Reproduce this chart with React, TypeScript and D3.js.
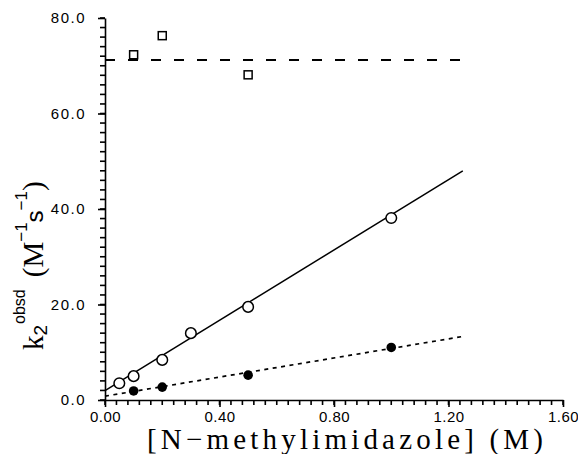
import React, { useRef, useEffect } from "react";
import * as d3 from "d3";

// [N-methylimidazole] (M) vs k2 obsd
const squareX = [0.1, 0.2, 0.5];
const squareY = [72.3, 76.3, 68.1];
const openX = [0.05, 0.1, 0.2, 0.3, 0.5, 1.0];
const openY = [3.5, 5.0, 8.4, 14.0, 19.5, 38.1];
const filledX = [0.1, 0.2, 0.5, 1.0];
const filledY = [1.9, 2.7, 5.2, 11.0];

// fitted lines: [x0, y0, x1, y1]
const dashedFit = [0, 71.2, 1.25, 71.2];
const solidFit = [0, 1.95, 1.25, 48.0];
const dottedFit = [0, 0.8, 1.25, 13.3];

const xMajor = [0, 0.4, 0.8, 1.2, 1.6];
const yMajor = [0, 20, 40, 60, 80];

const W = 578;
const H = 454;

const App = () => {
  const ref = useRef<SVGSVGElement>(null);

  useEffect(() => {
    const svg = d3.select(ref.current);
    svg.selectAll("*").remove();

    const x = d3.scaleLinear().domain([0, 1.6]).range([105, 563]);
    const y = d3.scaleLinear().domain([0, 80]).range([400, 18]);

    const sans = "Liberation Sans, Arial, sans-serif";
    const serif = "Liberation Serif, Times New Roman, serif";

    // minor ticks (every 0.04 and every 2)
    const xMinor = d3.range(0, 41).map((i) => i * 0.04);
    const yMinor = d3.range(0, 41).map((i) => i * 2);
    const minor = svg.append("g").attr("stroke", "#000").attr("stroke-width", 1.6);
    minor.selectAll("line.xm")
      .data(xMinor)
      .join("line")
      .attr("class", "xm")
      .attr("x1", (d) => x(d)).attr("x2", (d) => x(d))
      .attr("y1", y(0)).attr("y2", y(0) + 5);
    minor.selectAll("line.ym")
      .data(yMinor)
      .join("line")
      .attr("class", "ym")
      .attr("x1", x(0)).attr("x2", x(0) - 5)
      .attr("y1", (d) => y(d)).attr("y2", (d) => y(d));

    // major ticks + labels
    const xa = svg.append("g")
      .attr("transform", "translate(0,400)")
      .call(d3.axisBottom(x).tickValues(xMajor).tickSize(7).tickSizeOuter(0).tickPadding(4).tickFormat(d3.format(".2f")));
    const ya = svg.append("g")
      .attr("transform", "translate(105,0)")
      .call(d3.axisLeft(y).tickValues(yMajor).tickSize(7).tickSizeOuter(0).tickPadding(12).tickFormat(d3.format(".1f")));

    [xa, ya].forEach((g) => {
      g.selectAll("path").attr("stroke", "#000").attr("stroke-width", 1.6);
      g.selectAll("line").attr("stroke", "#000").attr("stroke-width", 1.6);
      g.selectAll("text").attr("font-family", sans).attr("font-size", 15).attr("fill", "#000");
    });
    ya.selectAll("text").attr("letter-spacing", 1.5);
    xa.selectAll("text").attr("letter-spacing", 0.5);

    // fit lines
    const fit = (f: number[], dash: string | null, w: number) => {
      svg.append("line")
        .attr("x1", x(f[0])).attr("y1", y(f[1]))
        .attr("x2", x(f[2])).attr("y2", y(f[3]))
        .attr("stroke", "#000").attr("stroke-width", w)
        .attr("stroke-dasharray", dash);
    };
    fit(dashedFit, "10,13", 2.2);
    fit(solidFit, null, 1.5);
    fit(dottedFit, "4,4.5", 1.7);

    // markers
    svg.append("g").selectAll("rect")
      .data(d3.zip(squareX, squareY))
      .join("rect")
      .attr("x", (d) => x(d[0]) - 4).attr("y", (d) => y(d[1]) - 4)
      .attr("width", 8).attr("height", 8)
      .attr("fill", "#fff").attr("stroke", "#000").attr("stroke-width", 1.5);

    svg.append("g").selectAll("circle")
      .data(d3.zip(openX, openY))
      .join("circle")
      .attr("cx", (d) => x(d[0])).attr("cy", (d) => y(d[1])).attr("r", 5.3)
      .attr("fill", "#fff").attr("stroke", "#000").attr("stroke-width", 1.5);

    svg.append("g").selectAll("circle")
      .data(d3.zip(filledX, filledY))
      .join("circle")
      .attr("cx", (d) => x(d[0])).attr("cy", (d) => y(d[1])).attr("r", 4.8)
      .attr("fill", "#000");

    // x title
    svg.append("text")
      .attr("x", 147).attr("y", 449)
      .attr("font-family", serif).attr("font-size", 29)
      .attr("textLength", 396).attr("lengthAdjust", "spacing")
      .text("[N\u2212methylimidazole] (M)");

    // y title
    const yt = svg.append("text")
      .attr("transform", "translate(43,350) rotate(-90)")
      .attr("font-family", serif).attr("font-size", 29);
    yt.append("tspan").text("k");
    yt.append("tspan").attr("font-family", sans).attr("font-size", 19).attr("dy", 4).text("2");
    yt.append("tspan").attr("font-family", sans).attr("font-size", 16).attr("dy", -22).attr("dx", 1).text("obsd");
    yt.append("tspan").attr("dy", 18).attr("dx", 12).text("(M");
    yt.append("tspan").attr("font-family", sans).attr("font-size", 17).attr("dy", -16).text("\u22121");
    yt.append("tspan").attr("font-family", sans).attr("font-size", 24).attr("dy", 16).text("s");
    yt.append("tspan").attr("font-family", sans).attr("font-size", 17).attr("dy", -16).text("\u22121");
    yt.append("tspan").attr("dy", 16).text(")");
  }, []);

  return (
    <svg
      ref={ref}
      width={W}
      height={H}
      style={{ position: "absolute", left: 0, top: 0, background: "#fff" }}
    />
  );
};

export default App;
